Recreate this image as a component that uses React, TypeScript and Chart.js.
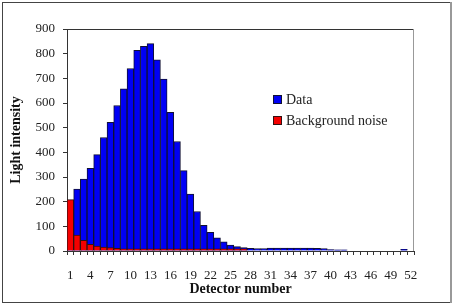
import { useEffect, useRef } from "react";
import { Chart, registerables } from "chart.js";

Chart.register(...registerables);

// Detector indices along the x axis
const detectors = [
  "1", "2", "3", "4", "5", "6", "7", "8", "9", "10",
  "11", "12", "13", "14", "15", "16", "17", "18", "19", "20",
  "21", "22", "23", "24", "25", "26", "27", "28", "29", "30",
  "31", "32", "33", "34", "35", "36", "37", "38", "39", "40",
  "41", "42", "43", "44", "45", "46", "47", "48", "49", "50",
  "51", "52",
];

// Measured light intensity per detector
const dataValues = [
  200, 251, 292, 335, 391, 460, 522, 590, 657, 740,
  814, 830, 841, 775, 697, 562, 444, 326, 231, 160,
  104, 76, 53, 37, 24, 18, 14, 11, 10, 10,
  12, 12, 12, 12, 12, 12, 12, 11, 10, 6,
  5, 5, 0, 0, 0, 0, 0, 0, 0, 0,
  7, 0,
];

// Background noise per detector
const noiseValues = [
  208, 65, 43, 27, 20, 16, 14, 11, 9, 9,
  9, 9, 9, 9, 9, 9, 9, 9, 9, 9,
  9, 9, 9, 9, 9, 9, 9, 0, 0, 0,
  0, 0, 0, 0, 0, 0, 0, 0, 0, 0,
  0, 0, 0, 0, 0, 0, 0, 0, 0, 0,
  0, 0,
];

// Only every third detector gets a label
const labelStep = 3;

const FONT = "'Liberation Serif', 'Times New Roman', serif";
const TEXT = "#222";
const AXIS = "#333";

const framePlugin = {
  id: "frame",
  beforeDraw(chart: any) {
    const { ctx, width, height } = chart;
    ctx.save();
    ctx.fillStyle = "#fff";
    ctx.fillRect(0, 0, width, height);
    ctx.restore();
  },
  afterDraw(chart: any) {
    const { ctx, chartArea: a, width, height } = chart;
    ctx.save();
    ctx.lineWidth = 1;
    // plot area top and right edges
    ctx.strokeStyle = AXIS;
    ctx.beginPath();
    ctx.moveTo(a.left, Math.round(a.top) + 0.5);
    ctx.lineTo(a.right, Math.round(a.top) + 0.5);
    ctx.stroke();
    ctx.strokeStyle = "#999";
    ctx.beginPath();
    ctx.moveTo(Math.round(a.right) - 0.5, a.top);
    ctx.lineTo(Math.round(a.right) - 0.5, a.bottom);
    ctx.stroke();

    // outer chart frame
    ctx.strokeStyle = "#444";
    ctx.strokeRect(2.5, 2.5, width - 5, height - 8);
    ctx.strokeStyle = "#999";
    ctx.lineWidth = 2;
    ctx.beginPath();
    ctx.moveTo(width - 2, 2);
    ctx.lineTo(width - 2, height - 5);
    ctx.stroke();

    // legend inside the plot area
    const x0 = a.left + 206;
    let y0 = a.top + 66;
    ctx.font = `14px ${FONT}`;
    ctx.textBaseline = "middle";
    ctx.textAlign = "left";
    chart.data.datasets.forEach((ds: any) => {
      ctx.fillStyle = ds.backgroundColor;
      ctx.fillRect(x0, y0, 9, 9);
      ctx.strokeStyle = ds.borderColor;
      ctx.lineWidth = 1;
      ctx.strokeRect(x0 + 0.5, y0 + 0.5, 8, 8);
      ctx.fillStyle = TEXT;
      ctx.fillText(ds.label, x0 + 13, y0 + 5);
      y0 += 21;
    });
    ctx.restore();
  },
};

export default function App() {
  const ref = useRef<HTMLCanvasElement | null>(null);

  useEffect(() => {
    if (!ref.current) return;
    const chart = new Chart(ref.current, {
      type: "bar",
      data: {
        labels: detectors,
        datasets: [
          {
            label: "Data",
            data: dataValues,
            backgroundColor: "#0000F5",
            borderColor: "#111133",
            borderWidth: 1,
            grouped: false,
            order: 2,
            categoryPercentage: 1,
            barPercentage: 1,
          },
          {
            label: "Background noise",
            data: noiseValues,
            backgroundColor: "#F50000",
            borderColor: "#331111",
            borderWidth: 1,
            grouped: false,
            order: 1,
            categoryPercentage: 1,
            barPercentage: 1,
          },
        ],
      },
      options: {
        responsive: false,
        animation: false,
        devicePixelRatio: 1,
        layout: { padding: { top: 29, right: 39, left: 0, bottom: 0 } },
        plugins: {
          legend: { display: false },
          tooltip: { enabled: false },
        },
        scales: {
          x: {
            offset: true,
            afterFit: (s: any) => {
              s.height = 57;
            },
            grid: {
              offset: true,
              drawOnChartArea: false,
              tickLength: 4,
              color: AXIS,
            },
            border: { display: true, color: AXIS },
            ticks: {
              autoSkip: false,
              maxRotation: 0,
              minRotation: 0,
              padding: 13,
              color: TEXT,
              font: { family: FONT, size: 13 },
              callback: (_v: any, i: number) =>
                i % labelStep === 0 ? detectors[i] : "",
            },
            title: {
              display: true,
              text: "Detector number",
              color: "#111",
              font: { family: FONT, size: 14, weight: "bold" },
              padding: { top: 0, bottom: 10 },
            },
          },
          y: {
            min: 0,
            max: 900,
            afterFit: (s: any) => {
              s.width = 67;
            },
            grid: {
              drawOnChartArea: false,
              tickLength: 4,
              color: AXIS,
            },
            border: { display: true, color: AXIS },
            ticks: {
              stepSize: 100,
              padding: 8,
              color: TEXT,
              font: { family: FONT, size: 13 },
            },
            title: {
              display: true,
              text: "Light intensity",
              color: "#111",
              font: { family: FONT, size: 14, weight: "bold" },
              padding: { top: 8, bottom: 0 },
            },
          },
        },
      },
      plugins: [framePlugin],
    });
    return () => chart.destroy();
  }, []);

  return (
    <canvas
      ref={ref}
      width={453}
      height={308}
      style={{ position: "fixed", left: 0, top: 0, display: "block" }}
    />
  );
}
